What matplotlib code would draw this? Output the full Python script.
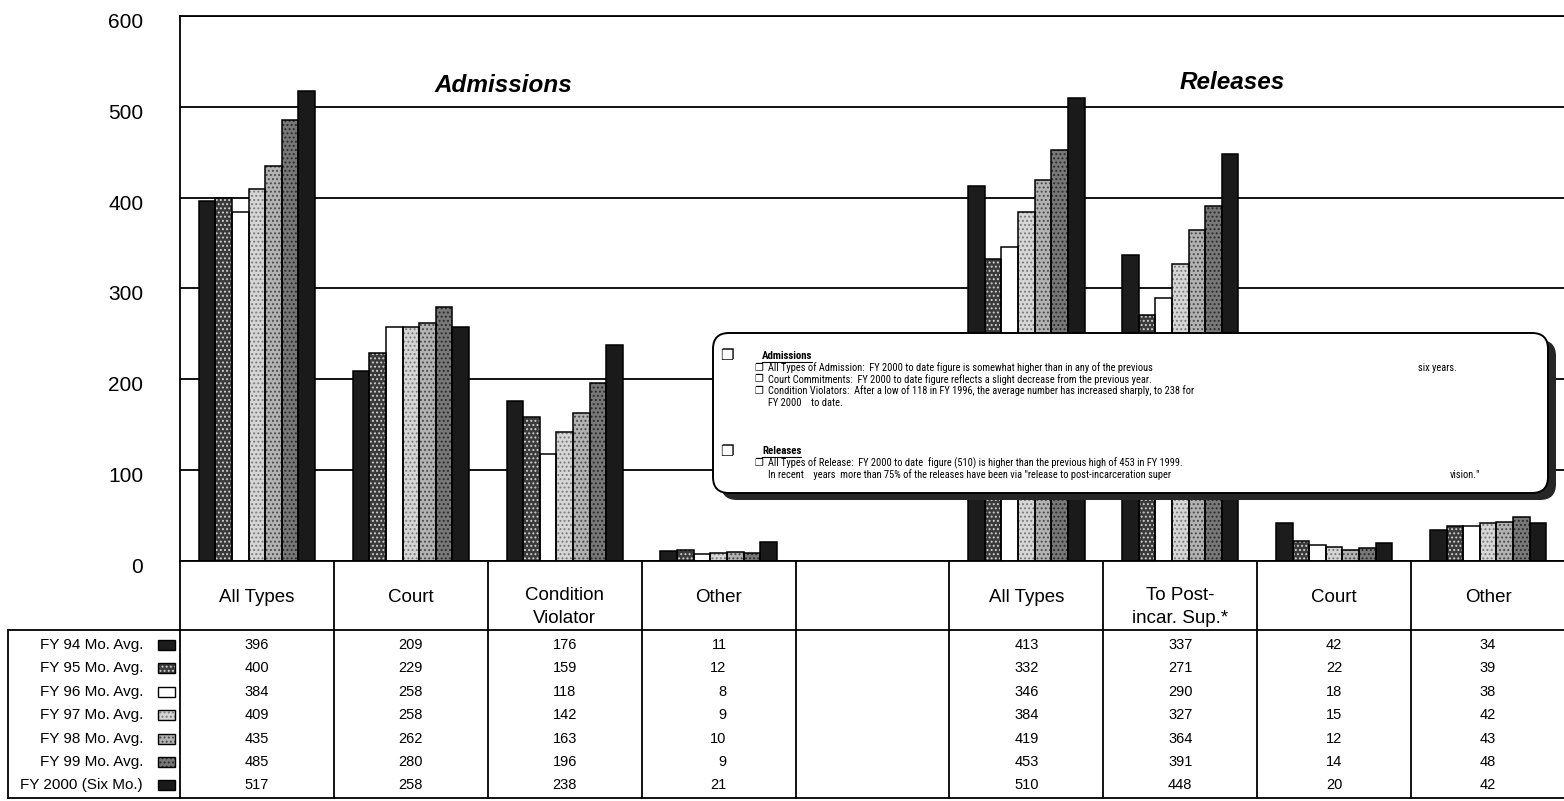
import numpy as np
import matplotlib
matplotlib.use('Agg')
import matplotlib.pyplot as plt
import matplotlib.transforms as mtransforms
from matplotlib.patches import Rectangle, FancyBboxPatch
from matplotlib import font_manager

# ---- data: monthly averages, FY94 .. FY2000 -------------------------------
years = ['FY 94 Mo. Avg.', 'FY 95 Mo. Avg.', 'FY 96 Mo. Avg.', 'FY 97 Mo. Avg.',
         'FY 98 Mo. Avg.', 'FY 99 Mo. Avg.', 'FY 2000 (Six Mo.)']
categories = ['All Types', 'Court', 'Condition\nViolator', 'Other', '',
              'All Types', 'To Post-\nincar. Sup.*', 'Court', 'Other']

adm_all = [396, 400, 384, 409, 435, 485, 517]
adm_court = [209, 229, 258, 258, 262, 280, 258]
adm_viol = [176, 159, 118, 142, 163, 196, 238]
adm_other = [11, 12, 8, 9, 10, 9, 21]
rel_all = [413, 332, 346, 384, 419, 453, 510]
rel_post = [337, 271, 290, 327, 364, 391, 448]
rel_court = [42, 22, 18, 15, 12, 14, 20]
rel_other = [34, 39, 38, 42, 43, 48, 42]

columns = [adm_all, adm_court, adm_viol, adm_other, None,
           rel_all, rel_post, rel_court, rel_other]

# fill / speckle for each year
faces = ['#1c1c1c', '#3a3a3a', 'white', '#d6d6d6', '#b2b2b2', '#787878', '#1a1a1a']
hatches = [None, '....', None, '....', '....', '....', None]
hcolors = [None, '#d0d0d0', None, '#7a7a7a', '#4a4a4a', '#2a2a2a', None]

plt.rcParams['font.family'] = ['Liberation Sans', 'DejaVu Sans']
plt.rcParams['hatch.linewidth'] = 0.9

# a condensed face for the notes, if one is installed
names = {f.name for f in font_manager.fontManager.ttflist}
narrow = [n for n in ['Liberation Sans Narrow', 'Arial Narrow', 'Roboto Condensed',
                      'Noto Sans Condensed', 'Open Sans Condensed',
                      'DejaVu Sans Condensed'] if n in names]
if narrow:
    note_font, note_size = [narrow[0], 'DejaVu Sans'], 7.5
else:
    note_font, note_size = ['Liberation Sans', 'DejaVu Sans'], 6.6

W, H = 1564, 801
fig = plt.figure(figsize=(W / 100, H / 100), dpi=100)
fig.patch.set_facecolor('white')

ax = fig.add_axes([180 / W, (H - 561) / H, 1385 / W, 545 / H])
ax.set_xlim(-0.5, 8.5)
ax.set_ylim(0, 600)

bw = 0.108
for j in range(len(years)):
    xs, vals = [], []
    for i, col in enumerate(columns):
        if col is None:
            continue
        xs.append(i + (j - 3) * bw)
        vals.append(col[j])
    ax.bar(xs, vals, bw, color=faces[j], linewidth=0, zorder=2)
    if hatches[j]:
        ax.bar(xs, vals, bw, facecolor='none', edgecolor=hcolors[j],
               hatch=hatches[j], linewidth=0, zorder=2.1)
    ax.bar(xs, vals, bw, facecolor='none', edgecolor='black',
           linewidth=1.1, zorder=2.2)

ax.set_yticks(np.arange(0, 601, 100))
ax.yaxis.grid(True, color='black', linewidth=1.3)
ax.set_axisbelow(True)
ax.set_xticks([])
ax.tick_params(axis='y', length=0, pad=26.5, labelsize=15)
for lab in ax.get_yticklabels():
    lab.set_transform(lab.get_transform() +
                      mtransforms.ScaledTranslation(0, -0.045, fig.dpi_scale_trans))
ax.spines['right'].set_visible(False)
for s in ['left', 'top', 'bottom']:
    ax.spines[s].set_linewidth(1.3)

ax.text(1.60, 524, 'Admissions', ha='center', va='center', fontsize=17.5,
        fontweight='bold', fontstyle='italic')
ax.text(6.34, 527, 'Releases', ha='center', va='center', fontsize=17.5,
        fontweight='bold', fontstyle='italic')

# ---- overlay in pixel units: table, legend, notes box ---------------------
ov = fig.add_axes([0, 0, 1, 1], zorder=5)
ov.set_xlim(0, W)
ov.set_ylim(H, 0)
ov.axis('off')
tr = mtransforms.blended_transform_factory(ax.transData, ov.transData)

lw = 1.3
for k in range(9):
    ov.plot([k - 0.5, k - 0.5], [561, 798], color='black', lw=lw,
            transform=tr, clip_on=False)
ov.plot([8, W], [630, 630], color='black', lw=lw)
ov.plot([8, W], [798, 798], color='black', lw=lw)
ov.plot([8, 8], [630, 798], color='black', lw=lw)

for i, cat in enumerate(categories):
    if '\n' in cat:
        ov.text(i, 607, cat, transform=tr, ha='center', va='center',
                fontsize=13.5, linespacing=1.4)
    else:
        ov.text(i, 597, cat, transform=tr, ha='center', va='center',
                fontsize=13.5)

row_y = 645 + 23.4 * np.arange(len(years))
for i, col in enumerate(columns):
    if col is None:
        continue
    for j, v in enumerate(col):
        if v >= 100:
            ov.text(i, row_y[j], str(v), transform=tr, ha='center',
                    va='center', fontsize=10.5)
        else:
            ov.text(i, row_y[j], str(v), ha='right', va='center', fontsize=10.5,
                    transform=tr + mtransforms.ScaledTranslation(
                        0.08, 0, fig.dpi_scale_trans))

for j, name in enumerate(years):
    ov.text(143, row_y[j], name, ha='right', va='center', fontsize=11)
    ov.add_patch(Rectangle((158, row_y[j] - 5), 17, 10, facecolor=faces[j],
                           edgecolor='none'))
    if hatches[j]:
        ov.add_patch(Rectangle((158, row_y[j] - 5), 17, 10, facecolor='none',
                               edgecolor=hcolors[j], hatch=hatches[j], lw=0))
    ov.add_patch(Rectangle((158, row_y[j] - 5), 17, 10, facecolor='none',
                           edgecolor='black', lw=1.0))

# notes box with drop shadow
ov.add_patch(FancyBboxPatch((721, 340), 835, 160,
                            boxstyle='round,pad=0,rounding_size=16',
                            facecolor='#262626', edgecolor='none', zorder=6))
ov.add_patch(FancyBboxPatch((713, 333), 835, 160,
                            boxstyle='round,pad=0,rounding_size=16',
                            facecolor='white', edgecolor='black', lw=1.4, zorder=7))

heads = []
for y, head in [(356, 'Admissions'), (451, 'Releases')]:
    ov.text(727, y, '\u2750', fontsize=11, ha='center', va='center',
            family='DejaVu Sans', zorder=8)
    heads.append(ov.text(762, y, head, fontsize=note_size + 0.3,
                         fontweight='bold', family=note_font, ha='left',
                         va='center', zorder=8))

notes = [
    (368, True, 'All Types of Admission:  FY 2000 to date figure is somewhat higher than in any of the previous'),
    (379.5, True, 'Court Commitments:  FY 2000 to date figure reflects a slight decrease from the previous year.'),
    (391, True, 'Condition Violators:  After a low of 118 in FY 1996, the average number has increased sharply, to 238 for'),
    (402.5, False, 'FY 2000    to date.'),
    (463, True, 'All Types of Release:  FY 2000 to date  figure (510) is higher than the previous high of 453 in FY 1999.'),
    (474.5, False, 'In recent    years  more than 75% of the releases have been via "release to post-incarceration super'),
]
for y, bullet, line in notes:
    if bullet:
        ov.text(759, y, '\u2750', fontsize=7, ha='center', va='center',
                family='DejaVu Sans', zorder=8)
    ov.text(768, y, line, fontsize=note_size, family=note_font,
            ha='left', va='center', zorder=8)
ov.text(1418, 368, 'six years.', fontsize=note_size, family=note_font,
        ha='left', va='center', zorder=8)
ov.text(1450, 474.5, 'vision."', fontsize=note_size, family=note_font,
        ha='left', va='center', zorder=8)

# underline the two headings
fig.canvas.draw()
rend = fig.canvas.get_renderer()
inv = ov.transData.inverted()
for t in heads:
    bb = t.get_window_extent(rend)
    (x0, y0), (x1, _) = inv.transform([[bb.x0, bb.y0], [bb.x1, bb.y0]])
    ov.plot([x0, x1], [y0 + 0.5, y0 + 0.5], color='black', lw=0.8, zorder=8)

fig.savefig('out.png', dpi=100)
